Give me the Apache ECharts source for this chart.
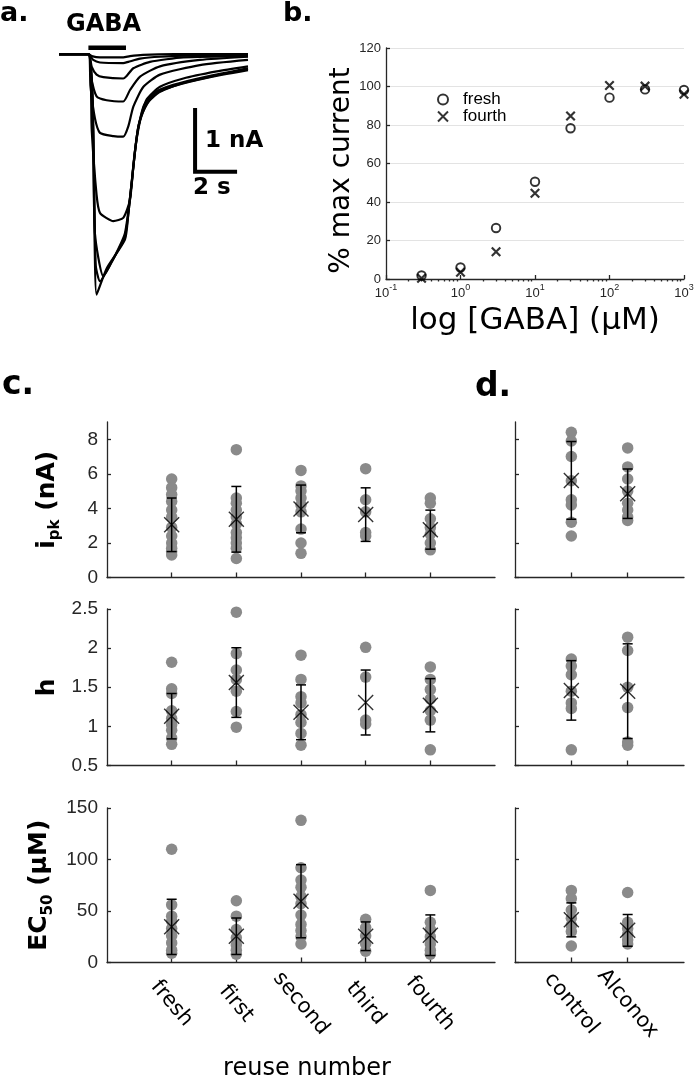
<!DOCTYPE html>
<html>
<head>
<meta charset="utf-8">
<script src="https://cdn.jsdelivr.net/npm/echarts@6/dist/echarts.min.js"></script>
<style>
  html, body { margin: 0; padding: 0; background: #fff; }
  #chart { width: 697px; height: 1084px; }
</style>
</head>
<body>
<div id="chart"></div>
<script>
// ---- panel a: current traces, [time (s), current (nA)] ----
const trace1 = [[0,0],[1.40,0],[1.56,-0.03],[1.95,-0.05],[3.06,-0.05],[3.38,-0.03],[4.0,-0.01],[5.5,0],[9,0]];
const trace2 = [[0,0],[1.40,0],[1.63,-0.09],[1.95,-0.13],[3.06,-0.14],[3.30,-0.12],[3.86,-0.07],[4.81,-0.04],[6.71,-0.02],[9,-0.01]];
const trace3 = [[0,0],[1.40,0],[1.56,-0.2],[1.79,-0.32],[2.11,-0.36],[3.06,-0.38],[3.22,-0.34],[3.54,-0.22],[4.33,-0.12],[5.92,-0.05],[9,-0.03]];
const trace4 = [[0,0],[1.40,0],[1.52,-0.35],[1.79,-0.66],[2.27,-0.72],[3.06,-0.74],[3.38,-0.56],[3.86,-0.35],[4.81,-0.19],[6.71,-0.09],[9,-0.04]];
const trace5 = [[0,0],[1.40,0],[1.50,-0.5],[1.71,-1.0],[1.95,-1.23],[2.59,-1.28],[3.06,-1.29],[3.30,-1.13],[3.54,-0.82],[4.02,-0.51],[4.81,-0.32],[6.71,-0.17],[9,-0.09]];
const trace6 = [[0,0],[1.40,0],[1.56,-1.2],[1.79,-2.2],[1.95,-2.48],[2.59,-2.61],[3.06,-2.56],[3.38,-2.28],[3.54,-1.76],[3.78,-1.13],[4.17,-0.71],[4.81,-0.51],[5.92,-0.38],[7.51,-0.27],[9,-0.19]];
const trace7 = [[0,0],[1.40,0],[1.71,-2.8],[2.11,-3.47],[2.59,-3.2],[3.14,-2.8],[3.46,-2.02],[3.70,-1.29],[4.02,-0.82],[4.49,-0.61],[5.44,-0.48],[7.03,-0.35],[9,-0.22]];
const trace8 = [[0,0],[1.40,0],[1.79,-3.76],[2.27,-3.35],[3.14,-2.9],[3.30,-2.5],[3.54,-1.76],[3.78,-1.13],[4.17,-0.78],[4.81,-0.59],[5.92,-0.45],[7.51,-0.33],[9,-0.23]];
const trace9 = [[0,0],[1.40,0],[1.75,-3.3],[1.95,-3.55],[2.5,-3.25],[3.14,-2.85],[3.40,-2.2],[3.62,-1.5],[3.94,-0.95],[4.49,-0.64],[5.44,-0.5],[7.03,-0.37],[9,-0.25]];
const gabaBar = [[1.40,0.1],[3.19,0.1]];
const scaleBar = [[6.48,-0.84],[6.48,-1.84],[8.48,-1.84]];

// ---- panel b: dose response ----
const gabaConc = [0.3, 1, 3, 10, 30, 100, 300, 1000];
const freshPct = [1.8, 6, 26.5, 50.5, 78.3, 94.2, 98.5, 98.2];
const fourthPct = [0.4, 3.5, 14.2, 44.5, 84.7, 100.5, 100.2, 96];
const minorTicksB = [0.2,0.3,0.4,0.5,0.6,0.7,0.8,0.9,2,3,4,5,6,7,8,9,20,30,40,50,60,70,80,90,200,300,400,500,600,700,800,900];

// ---- panel c: reuse number ----
const reuseGroups = ['fresh', 'first', 'second', 'third', 'fourth'];
const ipkReuse = [
  [5.7, 5.2, 4.8, 4.4, 3.9, 3.5, 2.9, 2.4, 2.0, 1.7, 1.5, 1.3],
  [7.4, 4.6, 4.3, 3.9, 3.5, 3.1, 2.6, 2.3, 2.0, 1.7, 1.1],
  [6.2, 5.3, 5.0, 4.6, 4.2, 3.8, 2.8, 2.0, 1.4],
  [6.3, 4.5, 3.8, 2.6, 2.4],
  [4.6, 4.3, 3.4, 2.9, 2.5, 2.0, 1.6]
];
const ipkReuseMean = [3.05, 3.37, 3.97, 3.64, 2.77];
const ipkReuseSd = [1.55, 1.9, 1.38, 1.55, 1.13];
const hReuse = [
  [1.82, 1.48, 1.42, 1.2, 1.1, 1.02, 0.95, 0.85, 0.77],
  [2.46, 1.93, 1.72, 1.6, 1.45, 1.19, 0.99],
  [1.91, 1.6, 1.38, 1.3, 1.15, 1.05, 0.91, 0.76],
  [2.01, 1.63, 1.08, 1.03],
  [1.76, 1.6, 1.47, 1.35, 1.2, 1.08, 0.7]
];
const hReuseMean = [1.13, 1.56, 1.18, 1.305, 1.27];
const hReuseSd = [0.29, 0.445, 0.35, 0.415, 0.34];
const ec50Reuse = [
  [110, 56, 45, 40, 33, 26, 19, 12, 9],
  [60, 45, 32, 24, 17, 12, 8],
  [138, 92, 80, 73, 64, 57, 46, 37, 31, 25, 18],
  [42, 34, 26, 18, 11],
  [70, 39, 32, 25, 18, 12, 8]
];
const ec50ReuseMean = [34.6, 25.5, 59.5, 25.5, 26.5];
const ec50ReuseSd = [26.8, 17.7, 35.5, 13.9, 19.7];

// ---- panel d: cleaning ----
const washGroups = ['control', 'Alconox'];
const ipkWash = [[8.4, 7.9, 7.0, 5.6, 4.5, 4.2, 3.2, 2.4], [7.5, 6.4, 5.7, 5.0, 4.3, 3.9, 3.5, 3.3]];
const ipkWashMean = [5.62, 4.85];
const ipkWashSd = [2.25, 1.43];
const hWash = [[1.86, 1.77, 1.66, 1.45, 1.3, 1.23, 0.7], [2.14, 1.97, 1.5, 1.24, 0.8, 0.76]];
const hWashMean = [1.46, 1.45];
const hWashSd = [0.38, 0.605];
const ec50Wash = [[70, 62, 51, 43, 36, 30, 16], [68, 39, 33, 27, 22, 18]];
const ec50WashMean = [41.4, 31.2];
const ec50WashSd = [16.5, 15.4];

const axisColor = '#262626';
const dotColor = '#8a8a8a';
const xMark = 'path://M0,0L10,10M10,0L0,10';
const tickFont = 'Liberation Sans';
const textFont = 'DejaVu Sans';

const chart = echarts.init(document.getElementById('chart'));

// grid rows for c and d
const rowTop = [422, 609, 808];
const rowHeight = [155.5, 156.5, 154.5];

const grids = [
  { left: 59, top: 35, width: 189, height: 275 },   // a
  { left: 386, top: 48, width: 298, height: 231 }   // b
];
rowTop.forEach(function (t, i) { grids.push({ left: 107, top: t, width: 388, height: rowHeight[i] }); });
rowTop.forEach(function (t, i) { grids.push({ left: 515, top: t, width: 169, height: rowHeight[i] }); });

const lineStyle = { color: axisColor, width: 1.3 };

function catXAxis(gridIndex, n, names, showLabels) {
  const vals = names.map(function (_, i) { return i + 1; });
  return {
    type: 'value', gridIndex: gridIndex, min: 0, max: n + 1,
    axisLine: { show: true, onZero: false, lineStyle: lineStyle },
    axisTick: { show: true, inside: true, length: 5, customValues: vals, lineStyle: lineStyle },
    axisLabel: {
      show: showLabels, customValues: vals, rotate: -50, margin: 41,
      align: 'center', verticalAlign: 'middle',
      formatter: function (v) { return names[v - 1] || ''; },
      fontFamily: textFont, fontSize: 21, color: '#000'
    },
    splitLine: { show: false }
  };
}

const rowAxes = [
  { min: 0, max: 9, ticks: [0, 2, 4, 6, 8] },
  { min: 0.5, max: 2.5, ticks: [0.5, 1, 1.5, 2, 2.5] },
  { min: 0, max: 150, ticks: [0, 50, 100, 150] }
];
const rowNames = [
  '{b|i}{s|pk}{b| (nA)}',
  '{b|h}',
  '{b|EC}{s|50}{b| (μM)}'
];
const nameRich = {
  b: { fontFamily: textFont, fontWeight: 'bold', fontSize: 25, lineHeight: 32, verticalAlign: 'middle', color: '#000' },
  s: { fontFamily: textFont, fontWeight: 'bold', fontSize: 15, lineHeight: 32, verticalAlign: 'bottom', color: '#000' }
};

function rowYAxis(gridIndex, r, showLabels) {
  const ax = rowAxes[r];
  return {
    type: 'value', gridIndex: gridIndex, min: ax.min, max: ax.max,
    name: showLabels ? rowNames[r] : '', nameLocation: 'middle', nameGap: 44,
    nameTextStyle: { rich: nameRich },
    axisLine: { show: true, onZero: false, lineStyle: lineStyle },
    axisTick: { show: true, inside: true, length: 4, customValues: ax.ticks, lineStyle: lineStyle },
    axisLabel: {
      show: showLabels, customValues: ax.ticks, margin: 9,
      fontFamily: tickFont, fontSize: 19, color: axisColor
    },
    splitLine: { show: false }
  };
}

const xAxes = [
  { type: 'value', gridIndex: 0, min: 0, max: 9, show: false },
  {
    type: 'log', gridIndex: 1, min: 0.1, max: 1000, logBase: 10,
    name: 'log [GABA] (μM)', nameLocation: 'middle', nameGap: 26,
    nameTextStyle: { fontFamily: textFont, fontSize: 31, color: '#000', verticalAlign: 'top' },
    axisLine: { show: true, onZero: false, lineStyle: lineStyle },
    axisTick: { show: true, inside: true, length: 4, lineStyle: lineStyle },
    axisLabel: {
      margin: 4,
      formatter: function (v) { return '{b|10}{s|' + Math.round(Math.log10(v)) + '}'; },
      rich: {
        b: { fontFamily: tickFont, fontSize: 13, color: axisColor, verticalAlign: 'bottom', lineHeight: 17 },
        s: { fontFamily: tickFont, fontSize: 9, color: axisColor, verticalAlign: 'top', lineHeight: 17 }
      }
    },
    splitLine: { show: false }
  },
  {
    type: 'log', gridIndex: 1, min: 0.1, max: 1000, logBase: 10,
    axisLine: { show: false },
    axisTick: { show: true, inside: true, length: 2.5, customValues: minorTicksB, lineStyle: lineStyle },
    axisLabel: { show: false },
    splitLine: { show: false }
  }
];
for (let r = 0; r < 3; r++) xAxes.push(catXAxis(2 + r, 5, reuseGroups, r === 2));
for (let r = 0; r < 3; r++) xAxes.push(catXAxis(5 + r, 2, washGroups, r === 2));
// "reuse number" label under panel c
xAxes[5].name = 'reuse number';
xAxes[5].nameLocation = 'middle';
xAxes[5].nameGap = 94;
xAxes[5].nameTextStyle = { fontFamily: textFont, fontSize: 24, color: '#000', padding: [0, 0, 0, 12] };

const yAxes = [
  { type: 'value', gridIndex: 0, min: -4, max: 0.3, show: false },
  {
    type: 'value', gridIndex: 1, min: 0, max: 120, interval: 20,
    name: '% max current', nameLocation: 'middle', nameGap: 29,
    nameTextStyle: { fontFamily: textFont, fontSize: 28, color: '#000', padding: [0, 14, 0, 0] },
    axisLine: { show: true, lineStyle: lineStyle },
    axisTick: { show: true, inside: true, length: 4, lineStyle: lineStyle },
    axisLabel: { margin: 5, fontFamily: tickFont, fontSize: 13, color: axisColor },
    splitLine: { show: true, lineStyle: { color: '#e3e3e3', width: 1 } }
  }
];
for (let r = 0; r < 3; r++) yAxes.push(rowYAxis(2 + r, r, true));
for (let r = 0; r < 3; r++) yAxes.push(rowYAxis(5 + r, r, false));

const series = [];

// panel a traces
[trace1, trace2, trace3, trace4, trace5, trace6, trace7, trace8, trace9].forEach(function (tr) {
  series.push({
    type: 'line', xAxisIndex: 0, yAxisIndex: 0, data: tr, symbol: 'none', smooth: 0.2,
    lineStyle: { color: '#000', width: 2.2 }, clip: false
  });
});
series.push({
  type: 'line', xAxisIndex: 0, yAxisIndex: 0, data: gabaBar, symbol: 'none',
  lineStyle: { color: '#000', width: 4.5, cap: 'butt' }, clip: false
});
series.push({
  type: 'line', xAxisIndex: 0, yAxisIndex: 0, data: scaleBar, symbol: 'none',
  lineStyle: { color: '#000', width: 4, cap: 'butt', join: 'miter' }, clip: false
});

// panel b
series.push({
  name: 'fresh', type: 'scatter', xAxisIndex: 1, yAxisIndex: 1,
  data: gabaConc.map(function (c, i) { return [c, freshPct[i]]; }),
  symbol: 'circle', symbolSize: 8.5,
  itemStyle: { color: 'rgba(0,0,0,0)', borderColor: '#000', borderWidth: 1.9 }
});
series.push({
  name: 'fourth', type: 'scatter', xAxisIndex: 1, yAxisIndex: 1,
  data: gabaConc.map(function (c, i) { return [c, fourthPct[i]]; }),
  symbol: xMark, symbolSize: 8.5,
  itemStyle: { color: 'rgba(0,0,0,0)', borderColor: '#000', borderWidth: 2.2 }
});

function errBars(params, api) {
  const x = api.value(0), m = api.value(1), s = api.value(2);
  const top = api.coord([x, m + s]);
  const bot = api.coord([x, m - s]);
  const cap = 5;
  const st = { stroke: '#000', lineWidth: 1.5 };
  return {
    type: 'group',
    children: [
      { type: 'line', shape: { x1: top[0], y1: top[1], x2: bot[0], y2: bot[1] }, style: st },
      { type: 'line', shape: { x1: top[0] - cap, y1: top[1], x2: top[0] + cap, y2: top[1] }, style: st },
      { type: 'line', shape: { x1: bot[0] - cap, y1: bot[1], x2: bot[0] + cap, y2: bot[1] }, style: st }
    ]
  };
}

function addGroupPanel(axisIndex, groups, means, sds) {
  const pts = [];
  groups.forEach(function (g, i) { g.forEach(function (v) { pts.push([i + 1, v]); }); });
  series.push({
    type: 'scatter', xAxisIndex: axisIndex, yAxisIndex: axisIndex - 1, data: pts,
    symbol: 'circle', symbolSize: 11.5, itemStyle: { color: dotColor, opacity: 1 }, z: 2
  });
  series.push({
    type: 'custom', xAxisIndex: axisIndex, yAxisIndex: axisIndex - 1,
    data: means.map(function (m, i) { return [i + 1, m, sds[i]]; }),
    renderItem: errBars, z: 3
  });
  series.push({
    type: 'scatter', xAxisIndex: axisIndex, yAxisIndex: axisIndex - 1,
    data: means.map(function (m, i) { return [i + 1, m]; }),
    symbol: xMark, symbolSize: 15,
    itemStyle: { color: 'rgba(0,0,0,0)', borderColor: '#000', borderWidth: 1.4 }, z: 4
  });
}

// x axes for rows start at index 3, their y axes at index 2
addGroupPanel(3, ipkReuse, ipkReuseMean, ipkReuseSd);
addGroupPanel(4, hReuse, hReuseMean, hReuseSd);
addGroupPanel(5, ec50Reuse, ec50ReuseMean, ec50ReuseSd);
addGroupPanel(6, ipkWash, ipkWashMean, ipkWashSd);
addGroupPanel(7, hWash, hWashMean, hWashSd);
addGroupPanel(8, ec50Wash, ec50WashMean, ec50WashSd);

const boldLabel = function (text, x, y, size) {
  return {
    type: 'text', left: x, top: y,
    style: { text: text, fontFamily: textFont, fontWeight: 'bold', fontSize: size, fill: '#000' }
  };
};

chart.setOption({
  animation: false,
  backgroundColor: '#fff',
  grid: grids,
  xAxis: xAxes,
  yAxis: yAxes,
  legend: {
    orient: 'vertical', left: 432, top: 86, itemWidth: 10, itemHeight: 10, itemGap: 0,
    data: ['fresh', 'fourth'],
    textStyle: { fontFamily: tickFont, fontSize: 17, color: '#000', padding: [0, 0, 0, 10] }
  },
  graphic: [
    boldLabel('a.', 0, 0, 27),
    boldLabel('b.', 283, 0, 27),
    boldLabel('c.', 2, 369, 33),
    boldLabel('d.', 475, 371, 33),
    boldLabel('GABA', 66, 13, 24),
    boldLabel('1 nA', 205, 130, 23),
    boldLabel('2 s', 193, 177, 23)
  ],
  series: series
});
</script>
</body>
</html>
